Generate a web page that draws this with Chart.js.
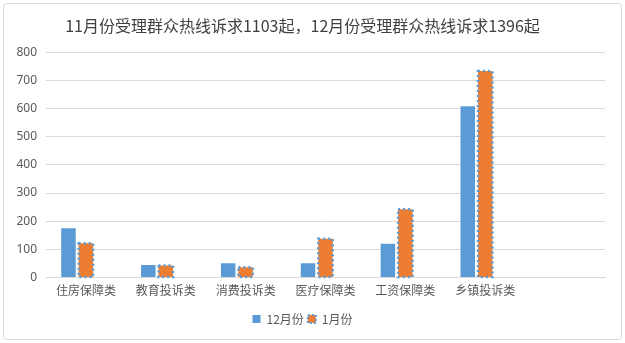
<!DOCTYPE html>
<html>
<head>
<meta charset="utf-8">
<script src="https://cdn.jsdelivr.net/npm/chart.js@4"></script>
<style>
  html, body { margin: 0; padding: 0; background: #fff; }
  canvas { display: block; }
</style>
</head>
<body>
<canvas id="chart" width="625" height="343"></canvas>
<script>
// 数据
const categories = ['住房保障类', '教育投诉类', '消费投诉类', '医疗保障类', '工资保障类', '乡镇投诉类', ''];
const decValues = [175, 44, 51, 51, 120, 608, null];
const janValues = [122, 43, 36, 138, 242, 733, null];
const yTicks = [0, 100, 200, 300, 400, 500, 600, 700, 800];

const blue = '#5B9BD5';
const orange = '#ED7D31';
const grey = '#595959';
const font = "'Noto Sans CJK SC', 'Noto Sans', sans-serif";

// 外框 + 1月份柱子的蓝色点线边框
const framePlugin = {
    id: 'frame',
    beforeDraw(chart) {
        const c = chart.ctx;
        c.save();
        c.fillStyle = '#fff';
        c.fillRect(0, 0, chart.width, chart.height);
        c.strokeStyle = '#d9d9d9';
        c.lineWidth = 1;
        c.beginPath();
        c.roundRect(3.5, 3.5, chart.width - 7, chart.height - 7, 3);
        c.stroke();
        c.restore();
    },
    afterDatasetsDraw(chart) {
        const c = chart.ctx;
        const meta = chart.getDatasetMeta(1);
        c.save();
        c.strokeStyle = blue;
        c.lineWidth = 2.5;
        c.setLineDash([2, 3]);
        meta.data.forEach((bar, i) => {
            if (janValues[i] == null) return;
            const left = bar.x - bar.width / 2;
            c.strokeRect(left, bar.y, bar.width, bar.base - bar.y);
        });
        c.restore();
    }
};

new Chart(document.getElementById('chart'), {
    type: 'bar',
    data: {
        labels: categories,
        datasets: [
            { label: '12月份', data: decValues, backgroundColor: blue },
            { label: '1月份', data: janValues, backgroundColor: orange },
            { label: '', data: [] }
        ]
    },
    options: {
        responsive: false,
        animation: false,
        devicePixelRatio: 1,
        categoryPercentage: 0.656,
        barPercentage: 0.83,
        layout: { padding: { left: 0, right: 20, top: 0, bottom: 8 } },
        plugins: {
            title: {
                display: true,
                text: '11月份受理群众热线诉求1103起，12月份受理群众热线诉求1396起',
                color: '#404040',
                font: { family: font, size: 16, weight: 'normal' },
                padding: { top: 16, bottom: 17 }
            },
            legend: {
                position: 'bottom',
                labels: {
                    color: grey,
                    font: { family: font, size: 12 },
                    boxWidth: 8,
                    boxHeight: 8,
                    padding: 4,
                    filter: item => item.text !== '',
                    generateLabels(chart) {
                        const items = Chart.defaults.plugins.legend.labels.generateLabels(chart);
                        items.forEach(it => {
                            if (it.datasetIndex === 1) {
                                it.strokeStyle = blue;
                                it.lineWidth = 2;
                                it.lineDash = [2, 2];
                            } else {
                                it.lineWidth = 0;
                            }
                        });
                        return items;
                    }
                }
            },
            tooltip: { enabled: false }
        },
        scales: {
            x: {
                afterFit(scale) { scale.height = 31.5; },
                grid: { display: false, drawTicks: false },
                border: { color: '#d9d9d9' },
                ticks: { color: grey, font: { family: font, size: 12 }, padding: 6, maxRotation: 0, autoSkip: false }
            },
            y: {
                min: 0,
                max: 800,
                afterFit(scale) { scale.width = 46; },
                afterBuildTicks(scale) { scale.ticks = yTicks.map(v => ({ value: v })); },
                grid: { color: '#d9d9d9', drawTicks: false },
                border: { display: false },
                ticks: { color: grey, font: { family: 'Noto Sans', size: 12 }, padding: 9 }
            }
        }
    },
    plugins: [framePlugin]
});
</script>
</body>
</html>
